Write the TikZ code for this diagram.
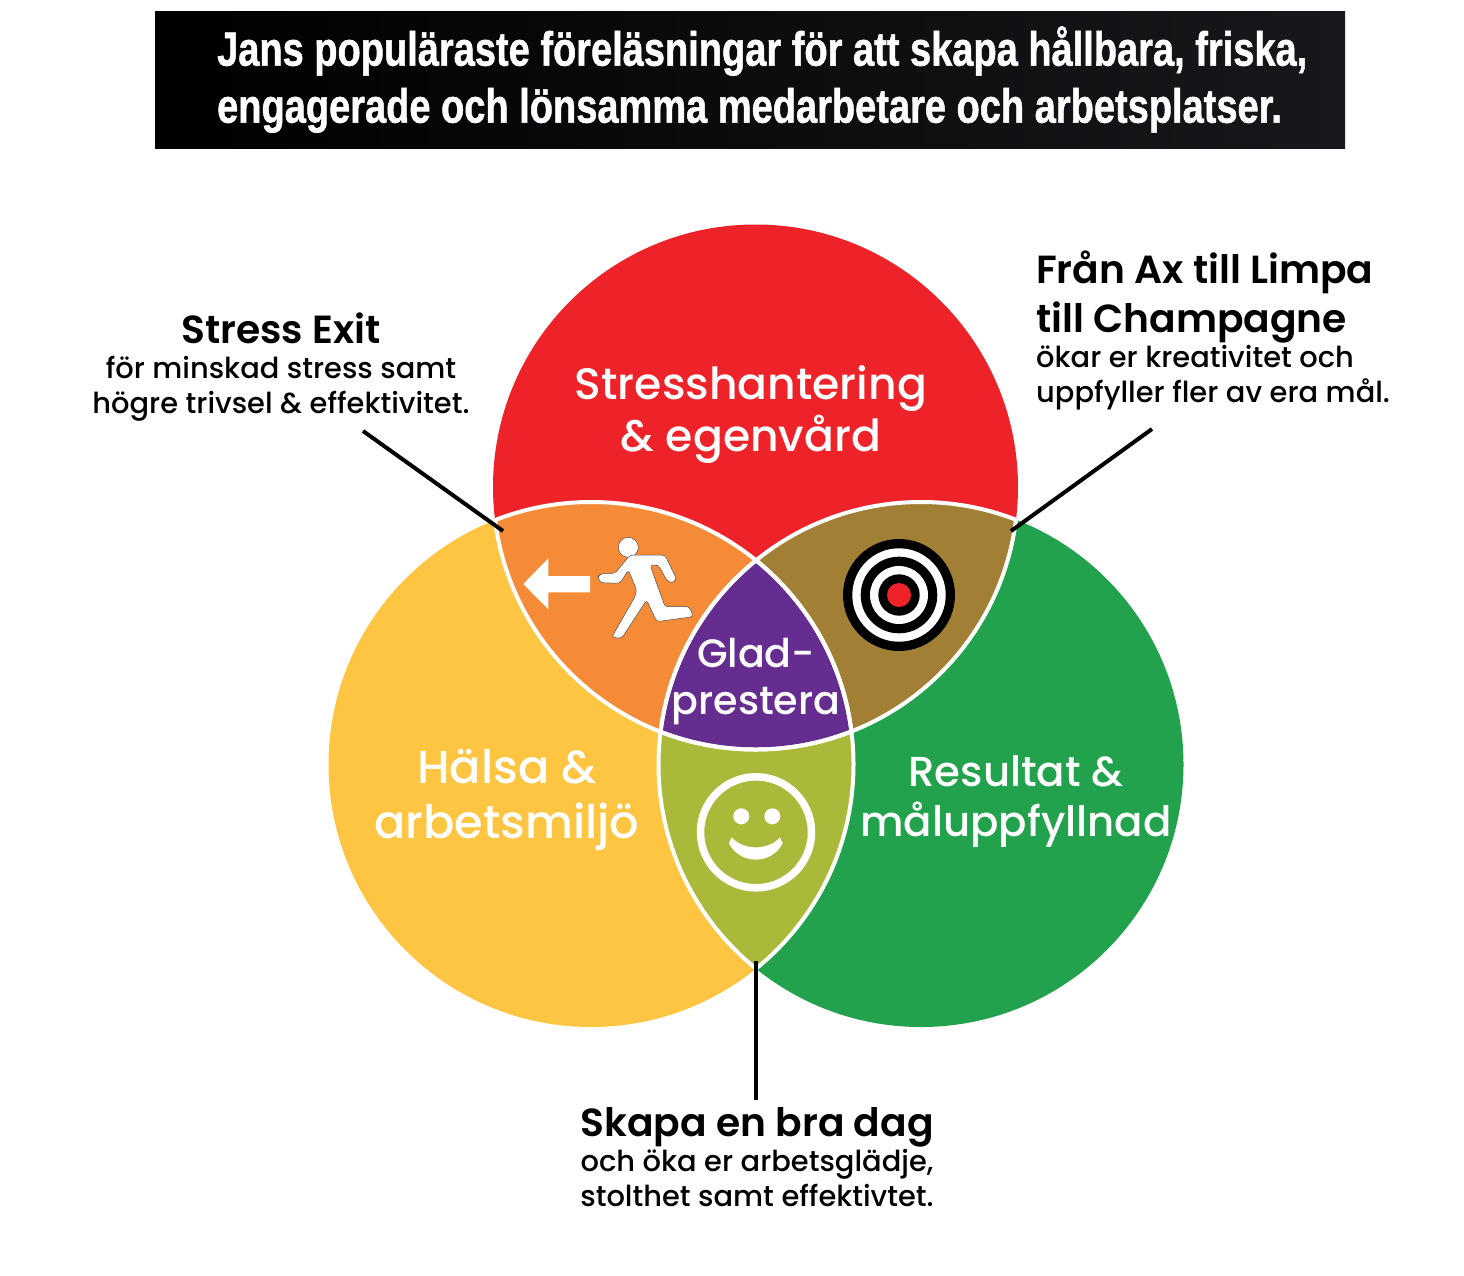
\documentclass[tikz,border=0pt]{standalone}
\usepackage{fontspec}
\setmainfont{Poppins}
\newfontfamily\titlefont[BoldFeatures={FakeBold=1.2}]{Liberation Sans}
\newfontfamily\popmed{Poppins Medium}
\newfontfamily\popsemi{Poppins SemiBold}
\usetikzlibrary{positioning}

\definecolor{ringred}{HTML}{EE2229}
\definecolor{ringyellow}{HTML}{FEC542}
\definecolor{ringgreen}{HTML}{22A24D}
\definecolor{lensorange}{HTML}{F58B37}
\definecolor{lensbrown}{HTML}{A18036}
\definecolor{lensolive}{HTML}{ABB93B}
\definecolor{lenspurple}{HTML}{652D90}
\definecolor{barend}{HTML}{16181B}

\begin{document}
\begin{tikzpicture}[x=1pt,y=-1pt,
                area label/.style={font=\fontsize{44.1}{52}\selectfont\popmed, text=white, align=center},
                head label/.style={font=\fontsize{39.2}{49}\selectfont\popsemi, align=center},
                use label/.style={font=\fontsize{28.9}{35}\selectfont\popmed, align=center},
                pointer/.style={line width=4pt},
                seam/.style={draw=white, line width=4pt}]
                \useasboundingbox (0,0) rectangle (1464,1275);

                % Title bar
                \shade[left color=black, right color=barend] (155,11) rectangle (1345,148.5);
                \node[font=\fontsize{48}{57}\selectfont\titlefont\bfseries, text=white, align=left,
                      anchor=west, xscale=0.792, inner sep=0] (title) at (217,79.5)
                      {Jans populäraste föreläsningar för att skapa hållbara, friska,\\
                       engagerade och lönsamma medarbetare och arbetsplatser.};

                % Main circles
                \coordinate (red c) at (755.5,487);
                \coordinate (yellow c) at (591,764.5);
                \coordinate (green c) at (921,764.5);
                \fill[ringred] (red c) circle (262.5pt);
                \fill[ringyellow] (yellow c) circle (262.5pt);
                \fill[ringgreen] (green c) circle (262.5pt);

                % Overlaps of two circles
                \begin{scope}
                    \clip (red c) circle (262.5pt);
                    \fill[lensorange] (yellow c) circle (262.5pt);
                    \fill[lensbrown] (green c) circle (262.5pt);
                \end{scope}
                \begin{scope}
                    \clip (yellow c) circle (262.5pt);
                    \fill[lensolive] (green c) circle (262.5pt);
                \end{scope}

                % Centre overlap
                \begin{scope}
                    \clip (red c) circle (262.5pt);
                    \clip (yellow c) circle (262.5pt);
                    \fill[lenspurple] (green c) circle (262.5pt);
                \end{scope}

                % White seams, only inside the other circles
                \foreach \inner/\outer in {red c/yellow c, red c/green c, yellow c/red c,
                                           yellow c/green c, green c/red c, green c/yellow c} {
                    \begin{scope}
                        \clip (\inner) circle (262.5pt);
                        \draw[seam] (\outer) circle (262.5pt);
                    \end{scope}
                }

                % Area labels
                \node[area label] (stress area) at (751,415) {Stresshantering\\\& egenvård};
                \node[area label, font=\fontsize{46.2}{55}\selectfont\popmed] (health area) at (507,800) {Hälsa \&\\arbetsmiljö};
                \node[area label, font=\fontsize{41.9}{50}\selectfont\popmed] (result area) at (1016,801) {Resultat \&\\måluppfyllnad};
                \node[area label, font=\fontsize{39.6}{47}\selectfont\popmed] (glad area) at (756,682) {Glad-\\prestera};

                % Runner and arrow
                \begin{scope}[shift={(490,490)}, scale=1/3]
                    \draw[fill=white, draw=black!70, line width=0.5pt] (415,172) circle (30pt);
                    \draw[fill=white, draw=black!70, line width=0.5pt, rounded corners=3pt]
                        (420,195) -- (525,195) -- (560,268) -- (545,280) -- (530,270) -- (505,225) -- (480,225)
                        -- (525,350) -- (598,350) -- (610,380) -- (500,395) -- (470,330) -- (395,445) -- (365,442)
                        -- (435,320) -- (440,300) -- (415,240) -- (390,280) -- (332,278) -- (322,262) -- (335,250)
                        -- (375,250) -- cycle;
                    \fill[white] (100,282) -- (175,205) -- (175,258) -- (300,258) -- (300,307) -- (175,307) -- (175,358) -- cycle;
                \end{scope}

                % Target
                \foreach \ringr/\ringc in {56/black, 46.7/white, 38.3/black, 29/white, 20.7/black, 12/ringred} {
                    \fill[\ringc] (899,595) circle (\ringr pt);
                }

                % Smiley
                \draw[white, line width=7.5pt] (756,832.3) circle (55.5pt);
                \fill[white] (741.3,816.3) circle (8pt);
                \fill[white] (772.3,816.3) circle (8pt);
                \begin{scope}[shift={(640,730)}, scale=1/3]
                    \fill[white] (275,322) .. controls (310,362) and (385,362) .. (420,322)
                        -- (428,340) .. controls (395,405) and (300,405) .. (267,340) -- cycle;
                \end{scope}

                % Labels outside the circles
                \node[head label] (stress head) at (281,328) {Stress Exit};
                \node[use label] (stress use) at (281,389) {för minskad stress samt\\högre trivsel \& effektivitet.};

                \node[head label, align=left, anchor=north west, inner sep=0] (bread head) at (1036,251) {Från Ax till Limpa\\till Champagne};
                \node[use label, align=left, anchor=north west, inner sep=0] (bread use) at (1036,345) {ökar er kreativitet och\\uppfyller fler av era mål.};

                \node[head label] (day head) at (757,1127) {Skapa en bra dag};
                \node[use label] (day use) at (757,1178) {och öka er arbetsglädje,\\stolthet samt effektivtet.};

                % Pointers
                \coordinate (stress tip) at (503,531);
                \coordinate (stress end) at (363,431);
                \coordinate (bread tip) at (1011,531);
                \coordinate (bread end) at (1152,429);
                \coordinate (day tip) at (756,961);
                \coordinate (day end) at (756,1100);
                \draw[pointer] (stress end) -- (stress tip);
                \draw[pointer] (bread end) -- (bread tip);
                \draw[pointer] (day end) -- (day tip);
            \end{tikzpicture}
\end{document}
